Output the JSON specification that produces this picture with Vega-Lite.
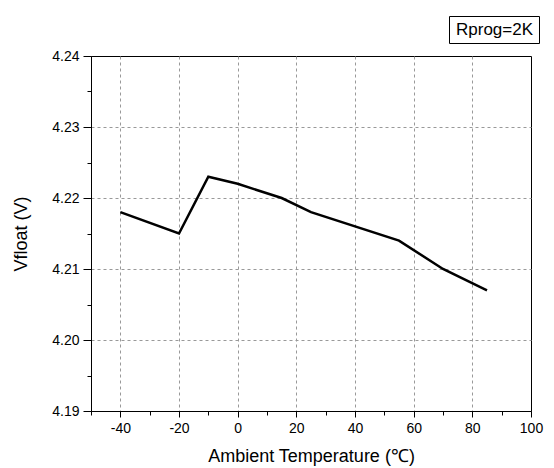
{
  "$schema": "https://vega.github.io/schema/vega-lite/v6.json",
  "width": 440,
  "height": 355,
  "autosize": "none",
  "padding": {"left": 91, "top": 56, "right": 23, "bottom": 57},
  "background": "white",
  "config": {
    "font": "Liberation Sans",
    "view": {"stroke": "black", "strokeWidth": 1},
    "axis": {"labelFont": "Liberation Sans", "titleFont": "Liberation Sans", "domainColor": "black", "tickColor": "black", "labelColor": "black", "titleColor": "black", "titleFontWeight": "normal"}
  },
  "data": {
    "values": [
      {"t": -40, "v": 4.218, "s": "Rprog=2K"},
      {"t": -20, "v": 4.215, "s": "Rprog=2K"},
      {"t": -10, "v": 4.223, "s": "Rprog=2K"},
      {"t": 0, "v": 4.222, "s": "Rprog=2K"},
      {"t": 15, "v": 4.220, "s": "Rprog=2K"},
      {"t": 25, "v": 4.218, "s": "Rprog=2K"},
      {"t": 55, "v": 4.214, "s": "Rprog=2K"},
      {"t": 70, "v": 4.210, "s": "Rprog=2K"},
      {"t": 85, "v": 4.207, "s": "Rprog=2K"}
    ]
  },
  "layer": [
    {
      "mark": {"type": "line", "strokeWidth": 2.5, "strokeOpacity": 0},
      "encoding": {
        "x": {"field": "t", "type": "quantitative", "scale": {"domain": [-50, 100], "nice": false, "zero": false},
          "axis": {"orient": "bottom", "values": [-50, -30, -10, 10, 30, 50, 70, 90], "labels": false, "grid": false, "domain": false, "tickSize": 4, "title": null}},
        "y": {"field": "v", "type": "quantitative", "scale": {"domain": [4.19, 4.24], "nice": false, "zero": false},
          "axis": {"orient": "left", "values": [4.195, 4.205, 4.215, 4.225, 4.235], "labels": false, "grid": false, "domain": false, "tickSize": 4, "title": null}}
      }
    },
    {
      "mark": {"type": "line", "strokeWidth": 2.5, "color": "black"},
      "encoding": {
        "x": {"field": "t", "type": "quantitative",
          "axis": {"orient": "bottom", "values": [-40, -20, 0, 20, 40, 60, 80, 100], "grid": true, "gridColor": "#999999", "gridDash": [3, 3], "gridWidth": 1,
            "gridOpacity": {"condition": {"test": "datum.value == 100", "value": 0}, "value": 1},
            "labelExpr": "replace(datum.label, '−', '-')",
            "tickSize": 6, "labelPadding": 4, "labelFontSize": 14, "labelFlush": false,
            "title": "Ambient Temperature (℃)", "titleFontSize": 18, "titlePadding": 12}},
        "y": {"field": "v", "type": "quantitative",
          "axis": {"orient": "left", "values": [4.19, 4.2, 4.21, 4.22, 4.23, 4.24], "format": ".2f", "grid": true, "gridColor": "#999999", "gridDash": [3, 3], "gridWidth": 1,
            "gridOpacity": {"condition": {"test": "datum.value == 4.19 || datum.value == 4.24", "value": 0}, "value": 1},
            "tickSize": 8, "labelPadding": 4, "labelFontSize": 14, "labelFlush": false,
            "title": "Vfloat (V)", "titleFontSize": 18, "titlePadding": 21}},
        "color": {"field": "s", "type": "nominal", "scale": {"range": ["black"]},
          "legend": {"title": null, "orient": "none", "legendX": 358, "legendY": -40, "strokeColor": "black", "padding": 5, "fillColor": "white",
            "symbolType": "circle", "symbolSize": 1, "symbolOpacity": 0, "symbolStrokeWidth": 0, "labelOffset": -15, "labelFontSize": 17, "labelFont": "Liberation Sans", "labelColor": "black"}}
      }
    }
  ],
  "resolve": {"axis": {"x": "independent", "y": "independent"}}
}
